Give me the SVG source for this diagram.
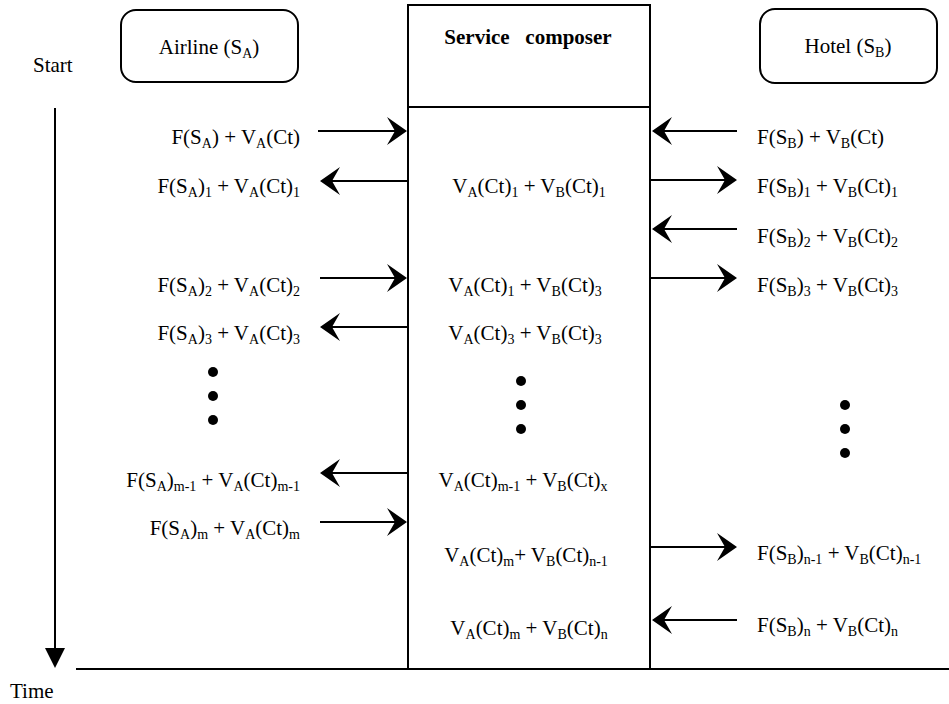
<svg xmlns="http://www.w3.org/2000/svg" width="949" height="704" viewBox="0 0 949 704">
<style>
text{font-family:"Liberation Serif",Tinos,"Times New Roman",serif;font-size:21px;fill:#000;white-space:pre}
.b{font-weight:bold}
.s{font-size:14px;baseline-shift:-4px}
.e{text-anchor:end}
.m{text-anchor:middle}
.ln{stroke:#000;stroke-width:2;fill:none}
.box{fill:#fff;stroke:#000;stroke-width:2}
</style>
<defs>
<path id="head" d="M0,0 L-20,-14 L-12,0 L-20,14 Z" fill="#000"/>
<path id="tri" d="M0,0 L-10,-20 L10,-20 Z" fill="#000"/>
</defs>

<g id="start-label"><text x="33" y="72">Start</text></g>
<g id="time-label"><text x="10" y="698">Time</text></g>

<g id="airline">
<rect class="box" x="121" y="10" width="177" height="72" rx="15"/>
<text class="m" x="209" y="54">Airline (S<tspan class="s">A</tspan>)</text>
</g>

<g id="hotel">
<rect class="box" x="760" y="9" width="177" height="74" rx="15"/>
<text class="m" x="848" y="53">Hotel (S<tspan class="s">B</tspan>)</text>
</g>

<g id="composer">
<rect class="box" x="408" y="5" width="242" height="664"/>
<line class="ln" x1="408" y1="107" x2="650" y2="107"/>
<text class="m b" x="528" y="44">Service   composer</text>
<text class="m" x="529" y="193">V<tspan class="s">A</tspan>(Ct)<tspan class="s">1</tspan> + V<tspan class="s">B</tspan>(Ct)<tspan class="s">1</tspan></text>
<text class="m" x="525" y="292">V<tspan class="s">A</tspan>(Ct)<tspan class="s">1</tspan> + V<tspan class="s">B</tspan>(Ct)<tspan class="s">3</tspan></text>
<text class="m" x="525" y="340">V<tspan class="s">A</tspan>(Ct)<tspan class="s">3</tspan> + V<tspan class="s">B</tspan>(Ct)<tspan class="s">3</tspan></text>
<circle cx="521" cy="381" r="5"/>
<circle cx="521" cy="405" r="5"/>
<circle cx="521" cy="429" r="5"/>
<text class="m" x="523" y="487">V<tspan class="s">A</tspan>(Ct)<tspan class="s">m-1</tspan> + V<tspan class="s">B</tspan>(Ct)<tspan class="s">x</tspan></text>
<text class="m" x="526" y="562">V<tspan class="s">A</tspan>(Ct)<tspan class="s">m</tspan>+ V<tspan class="s">B</tspan>(Ct)<tspan class="s">n-1</tspan></text>
<text class="m" x="529" y="635">V<tspan class="s">A</tspan>(Ct)<tspan class="s">m</tspan> + V<tspan class="s">B</tspan>(Ct)<tspan class="s">n</tspan></text>
</g>

<g id="airline-messages">
<text class="e" x="300" y="144">F(S<tspan class="s">A</tspan>) + V<tspan class="s">A</tspan>(Ct)</text>
<text class="e" x="300" y="193">F(S<tspan class="s">A</tspan>)<tspan class="s">1</tspan> + V<tspan class="s">A</tspan>(Ct)<tspan class="s">1</tspan></text>
<text class="e" x="300" y="292">F(S<tspan class="s">A</tspan>)<tspan class="s">2</tspan> + V<tspan class="s">A</tspan>(Ct)<tspan class="s">2</tspan></text>
<text class="e" x="300" y="340">F(S<tspan class="s">A</tspan>)<tspan class="s">3</tspan> + V<tspan class="s">A</tspan>(Ct)<tspan class="s">3</tspan></text>
<circle cx="213" cy="372" r="5"/>
<circle cx="213" cy="396" r="5"/>
<circle cx="213" cy="420" r="5"/>
<text class="e" x="300" y="487">F(S<tspan class="s">A</tspan>)<tspan class="s">m-1</tspan> + V<tspan class="s">A</tspan>(Ct)<tspan class="s">m-1</tspan></text>
<text class="e" x="300" y="535">F(S<tspan class="s">A</tspan>)<tspan class="s">m</tspan> + V<tspan class="s">A</tspan>(Ct)<tspan class="s">m</tspan></text>
</g>

<g id="hotel-messages">
<text x="757" y="144">F(S<tspan class="s">B</tspan>) + V<tspan class="s">B</tspan>(Ct)</text>
<text x="757" y="193">F(S<tspan class="s">B</tspan>)<tspan class="s">1</tspan> + V<tspan class="s">B</tspan>(Ct)<tspan class="s">1</tspan></text>
<text x="757" y="243">F(S<tspan class="s">B</tspan>)<tspan class="s">2</tspan> + V<tspan class="s">B</tspan>(Ct)<tspan class="s">2</tspan></text>
<text x="757" y="292">F(S<tspan class="s">B</tspan>)<tspan class="s">3</tspan> + V<tspan class="s">B</tspan>(Ct)<tspan class="s">3</tspan></text>
<circle cx="845" cy="405" r="5"/>
<circle cx="845" cy="429" r="5"/>
<circle cx="845" cy="453" r="5"/>
<text x="757" y="560">F(S<tspan class="s">B</tspan>)<tspan class="s">n-1</tspan> + V<tspan class="s">B</tspan>(Ct)<tspan class="s">n-1</tspan></text>
<text x="757" y="632">F(S<tspan class="s">B</tspan>)<tspan class="s">n</tspan> + V<tspan class="s">B</tspan>(Ct)<tspan class="s">n</tspan></text>
</g>

<g id="connectors">
<line class="ln" x1="318" y1="131" x2="397" y2="131"/><use href="#head" transform="translate(407,131)"/>
<line class="ln" x1="408" y1="181" x2="330" y2="181"/><use href="#head" transform="translate(320,181) rotate(180)"/>
<line class="ln" x1="320" y1="278" x2="397" y2="278"/><use href="#head" transform="translate(407,278)"/>
<line class="ln" x1="408" y1="327" x2="330" y2="327"/><use href="#head" transform="translate(320,327) rotate(180)"/>
<line class="ln" x1="408" y1="473" x2="330" y2="473"/><use href="#head" transform="translate(320,473) rotate(180)"/>
<line class="ln" x1="320" y1="522" x2="397" y2="522"/><use href="#head" transform="translate(407,522)"/>
<line class="ln" x1="737" y1="131" x2="662" y2="131"/><use href="#head" transform="translate(652,131) rotate(180)"/>
<line class="ln" x1="650" y1="180" x2="727" y2="180"/><use href="#head" transform="translate(737,180)"/>
<line class="ln" x1="737" y1="229" x2="662" y2="229"/><use href="#head" transform="translate(652,229) rotate(180)"/>
<line class="ln" x1="650" y1="278" x2="727" y2="278"/><use href="#head" transform="translate(737,278)"/>
<line class="ln" x1="650" y1="547" x2="727" y2="547"/><use href="#head" transform="translate(737,547)"/>
<line class="ln" x1="737" y1="620" x2="662" y2="620"/><use href="#head" transform="translate(652,620) rotate(180)"/>
<line class="ln" x1="55" y1="108" x2="55" y2="650"/><use href="#tri" transform="translate(55,668)"/>
<line class="ln" x1="76" y1="669" x2="949" y2="669"/>
</g>
</svg>
